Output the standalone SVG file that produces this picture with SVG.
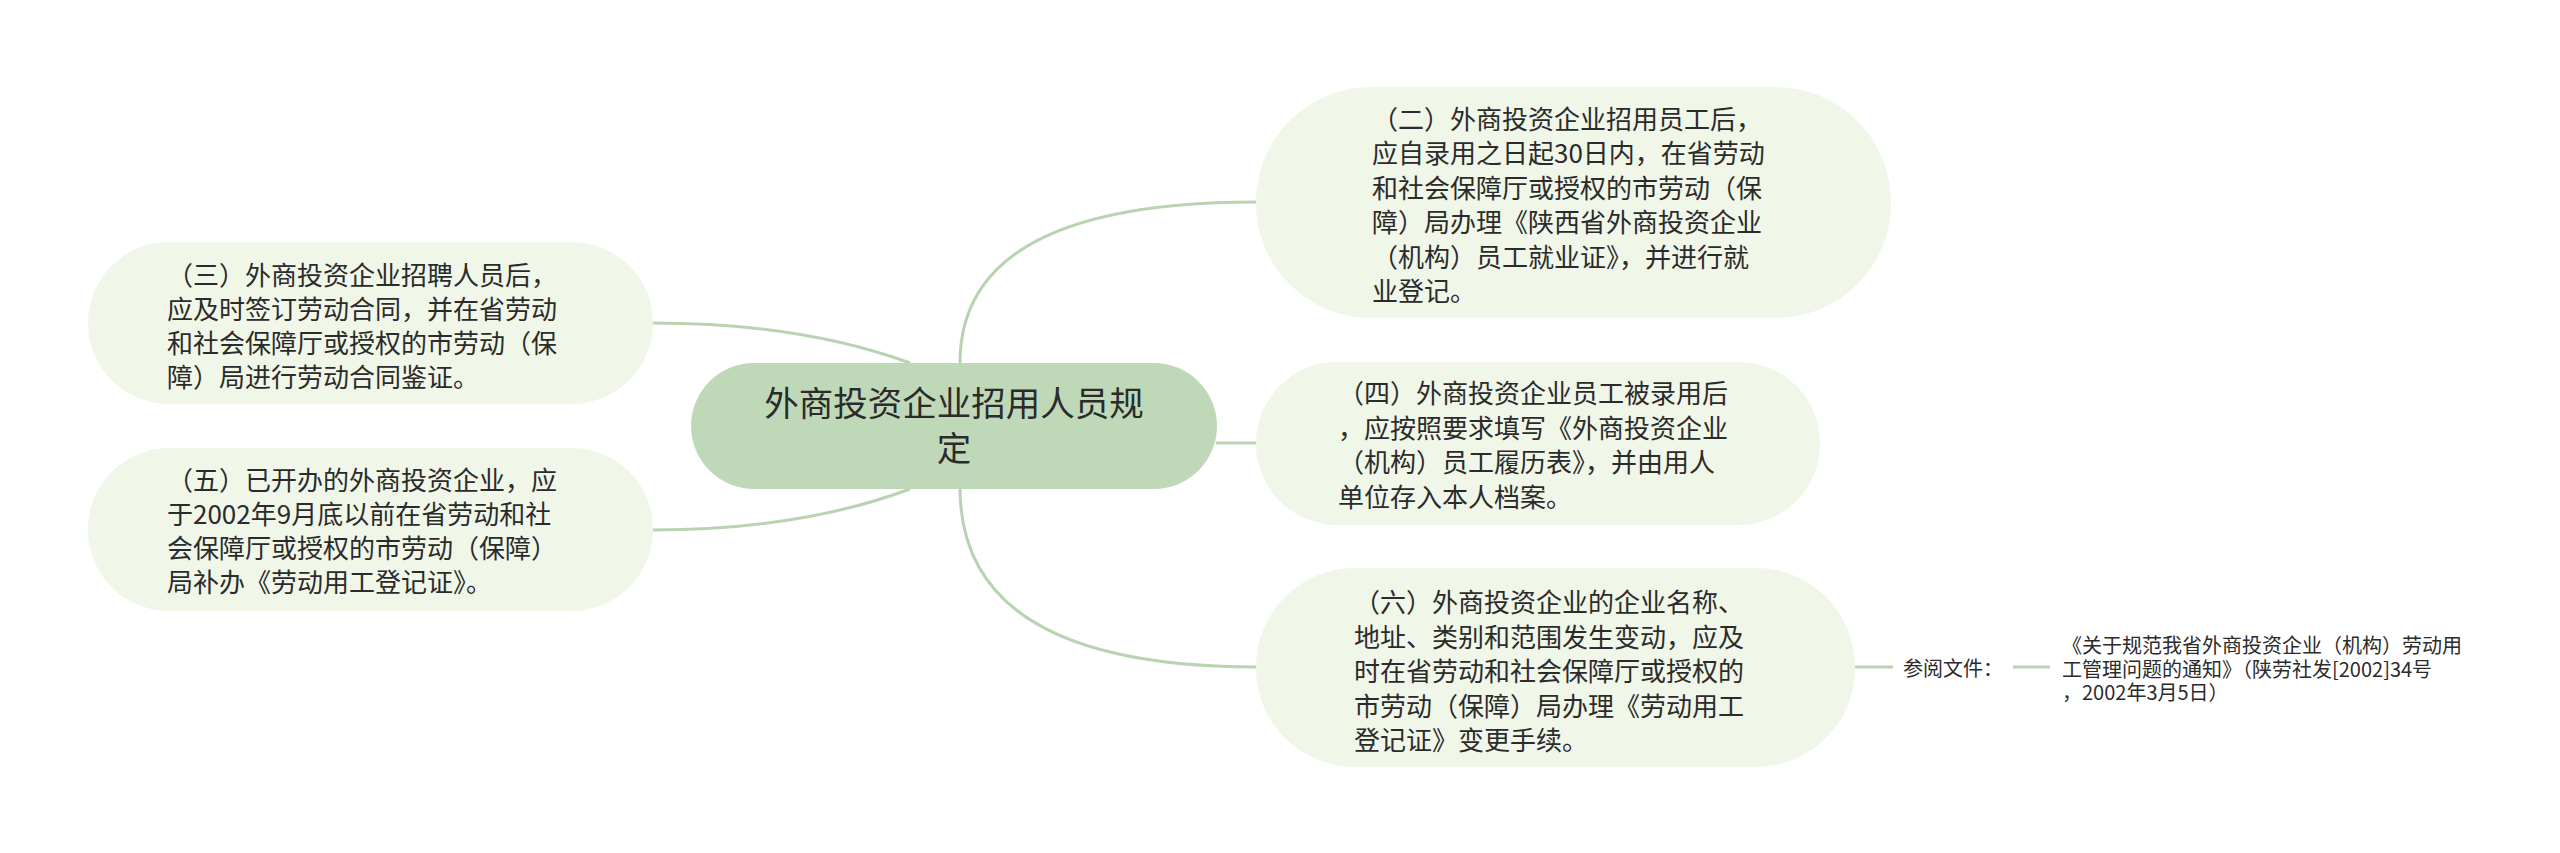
<svg xmlns="http://www.w3.org/2000/svg" width="2560" height="853" viewBox="0 0 2560 853">
<style>
.node{fill:#f0f6e8;}
.root{fill:#bfd9b8;}
.t,.rt,.s{font-family:"Noto Sans CJK SC","Noto Sans",sans-serif;fill:#2b2b2b;font-feature-settings:"chws" 0,"halt" 0,"palt" 0;font-kerning:none;}
.t{font-size:26px;}
.rt{font-size:34.5px;text-anchor:middle;}
.s{font-size:20px;}
.c{fill:none;stroke:#b8d3b0;stroke-width:3;}
</style>
<rect width="2560" height="853" fill="#ffffff"/>
<g id="connectors">
<path class="c" d="M960,363 Q960,202 1256,202"/>
<path class="c" d="M960,488 Q960,667 1256,667"/>
<path class="c" d="M1216,443 L1256,443"/>
<path class="c" d="M910,363 Q800,323 653,323"/>
<path class="c" d="M910,489 Q800,530 653,530"/>
<path class="c" d="M1855,667 L1893,667"/>
<path class="c" d="M2013,667 L2050,667"/>
</g>
<g id="root">
<rect class="root" x="691" y="363" width="526" height="126" rx="63" ry="63"/>
<text class="rt" x="954" y="416">外商投资企业招用人员规</text>
<text class="rt" x="954" y="461">定</text>
</g>
<g id="n2">
<rect class="node" x="1256" y="87" width="635" height="231" rx="115" ry="115"/>
<text class="t" x="1372" y="129">（二）外商投资企业招用员工后，</text>
<text class="t" x="1372" y="163.4">应自录用之日起30日内，在省劳动</text>
<text class="t" x="1372" y="197.8">和社会保障厅或授权的市劳动（保</text>
<text class="t" x="1372" y="232.2">障）局办理《陕西省外商投资企业</text>
<text class="t" x="1372" y="266.6">（机构）员工就业证》，并进行就</text>
<text class="t" x="1372" y="301">业登记。</text>
</g>
<g id="n3">
<rect class="node" x="88" y="242" width="565" height="162" rx="81" ry="81"/>
<text class="t" x="167" y="285">（三）外商投资企业招聘人员后，</text>
<text class="t" x="167" y="319">应及时签订劳动合同，并在省劳动</text>
<text class="t" x="167" y="353">和社会保障厅或授权的市劳动（保</text>
<text class="t" x="167" y="387">障）局进行劳动合同鉴证。</text>
</g>
<g id="n4">
<rect class="node" x="1256" y="362" width="564" height="163" rx="81" ry="81"/>
<text class="t" x="1338" y="403">（四）外商投资企业员工被录用后</text>
<text class="t" x="1338" y="437.5">，应按照要求填写《外商投资企业</text>
<text class="t" x="1338" y="472">（机构）员工履历表》，并由用人</text>
<text class="t" x="1338" y="506.5">单位存入本人档案。</text>
</g>
<g id="n5">
<rect class="node" x="88" y="448" width="565" height="163" rx="81" ry="81"/>
<text class="t" x="167" y="490">（五）已开办的外商投资企业，应</text>
<text class="t" x="167" y="524">于2002年9月底以前在省劳动和社</text>
<text class="t" x="167" y="558">会保障厅或授权的市劳动（保障）</text>
<text class="t" x="167" y="592">局补办《劳动用工登记证》。</text>
</g>
<g id="n6">
<rect class="node" x="1256" y="568" width="599" height="199" rx="99" ry="99"/>
<text class="t" x="1354" y="612">（六）外商投资企业的企业名称、</text>
<text class="t" x="1354" y="646.5">地址、类别和范围发生变动，应及</text>
<text class="t" x="1354" y="681">时在省劳动和社会保障厅或授权的</text>
<text class="t" x="1354" y="715.5">市劳动（保障）局办理《劳动用工</text>
<text class="t" x="1354" y="750">登记证》变更手续。</text>
</g>
<g id="label">
<text class="s" x="1903" y="675.5">参阅文件：</text>
</g>
<g id="ref">
<text class="s" x="2062" y="653">《关于规范我省外商投资企业（机构）劳动用</text>
<text class="s" x="2062" y="676.5">工管理问题的通知》（陕劳社发[2002]34号</text>
<text class="s" x="2062" y="700">，2002年3月5日）</text>
</g>
</svg>
